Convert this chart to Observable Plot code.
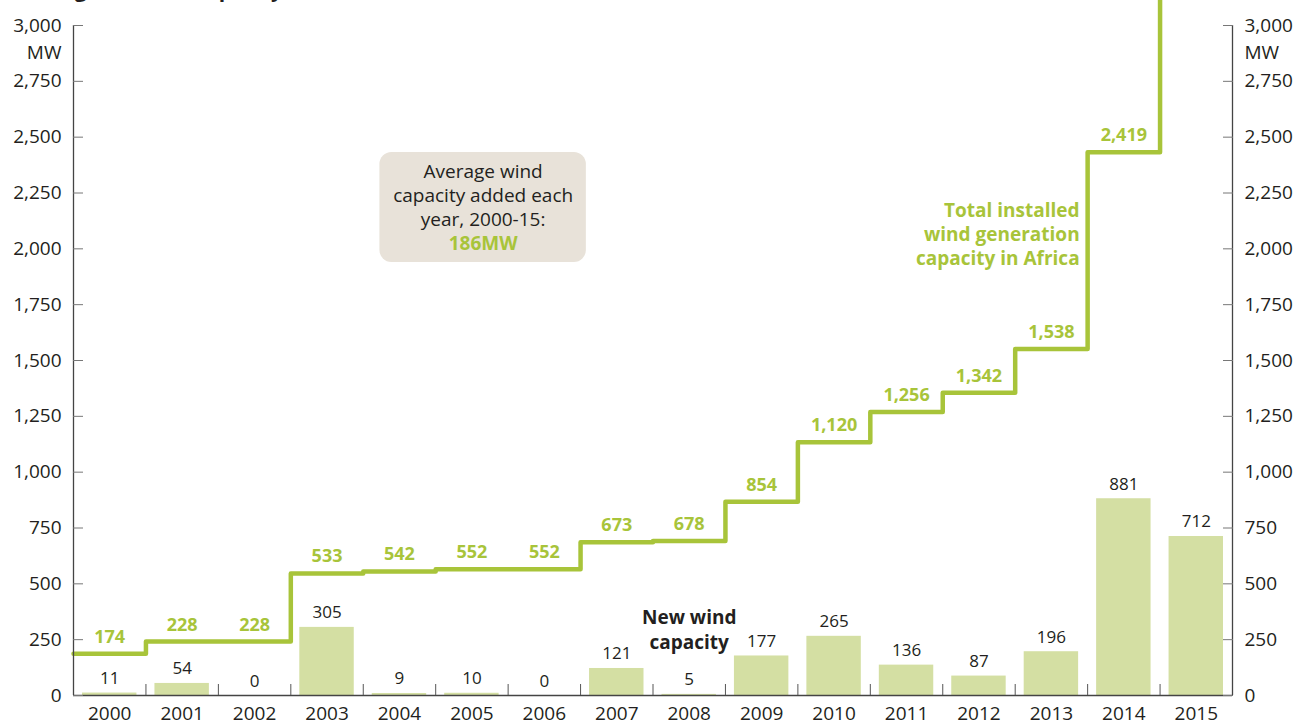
<!DOCTYPE html>
<html><head><meta charset="utf-8">
<script src="https://cdn.jsdelivr.net/npm/d3@7"></script>
<script src="https://cdn.jsdelivr.net/npm/@observablehq/plot@0.6"></script>
<style>
html,body{margin:0;padding:0;background:#fff;overflow:hidden}
#chart svg{display:block}
</style>
</head><body><div id="chart"></div>
<script>
const years = [2000,2001,2002,2003,2004,2005,2006,2007,2008,2009,2010,2011,2012,2013,2014,2015];
const newCapacity = [11,54,0,305,9,10,0,121,5,177,265,136,87,196,881,712];
const totalCapacity = [174,228,228,533,542,552,552,673,678,854,1120,1256,1342,1538,2419,3131];
const yTicks = [0,250,500,750,1000,1250,1500,1750,2000,2250,2500,2750,3000];
const titleText = "Wind generation capacity, 2000-15";
const avgText = "Average wind\ncapacity added each\nyear, 2000-15:";
const avgValue = "186MW";
const totalLabel = "Total installed\nwind generation\ncapacity in Africa";
const newLabel = "New wind\ncapacity";

const GREEN = "#a8c43a";
const BAR = "#d4dfa3";
const DARK = "#231f20";
const FONT = "'Open Sans', sans-serif";

const data = years.map((y, i) => ({i, year: y, nw: newCapacity[i], total: totalCapacity[i]}));
const steps = data.map(d => ({x: d.i, y: d.total})).concat([{x: years.length, y: totalCapacity[totalCapacity.length - 1]}]);
const fmt = d3.format(",");
const yMax = yTicks[yTicks.length - 1];

const chart = Plot.plot({
  width: 1298,
  height: 723,
  marginLeft: 73,
  marginRight: 66,
  marginTop: 25,
  marginBottom: 28,
  style: {fontFamily: FONT, fontSize: "19px", color: DARK, background: "#fff", overflow: "hidden"},
  x: {domain: [0, years.length], axis: null},
  y: {domain: [0, yMax], axis: null},
  marks: [
    // title (cut off at top)
    Plot.text([titleText], {frameAnchor: "top-left", dx: -58, dy: -29, textAnchor: "start", lineAnchor: "bottom", fontWeight: "bold", fontSize: 21, fill: DARK}),
    // annotation box
    Plot.rect([{x1: 4.23, x2: 7.08, y1: 1939, y2: 2431}], {x1: "x1", x2: "x2", y1: "y1", y2: "y2", fill: "#e8e2d9", rx: 12}),
    Plot.text([avgText], {x: 5.655, y: 2431, dy: 8, lineAnchor: "top", lineHeight: 1.27, fontSize: 19, fill: DARK}),
    Plot.text([avgValue], {x: 5.655, y: 2431, dy: 84, lineAnchor: "top", fontSize: 19, fontWeight: "bold", fill: GREEN}),
    // bars
    Plot.rectY(data, {x1: d => d.i, x2: d => d.i + 1, y: "nw", fill: BAR, insetLeft: 9, insetRight: 9}),
    Plot.text(data, {x: d => d.i + 0.5, y: "nw", text: d => fmt(d.nw), dy: -9, lineAnchor: "bottom", fontSize: 17, fill: DARK}),
    // step line
    Plot.line(steps, {x: "x", y: "y", curve: "step-after", stroke: GREEN, strokeWidth: 4.5, dy: -3}),
    Plot.text(data.filter(d => d.total <= yMax), {x: d => d.i + 0.5, y: "total", text: d => fmt(d.total), dy: -14, lineAnchor: "bottom", fontSize: 18, fontWeight: "bold", fill: GREEN}),
    // series labels
    Plot.text([totalLabel], {x: 14, y: 2431, dx: -8, dy: 47, textAnchor: "end", lineAnchor: "top", lineHeight: 1.27, fontSize: 19, fontWeight: "bold", fill: GREEN}),
    Plot.text([newLabel], {x: 8.5, y: 305, dy: 1, lineAnchor: "middle", lineHeight: 1.3, fontSize: 19, fontWeight: "bold", fill: DARK}),
    // axes frame
    Plot.ruleY([0], {stroke: "#444", strokeWidth: 1.3}),
    Plot.ruleX([0, years.length], {y1: 0, y2: yMax, stroke: "#444", strokeWidth: 1.3}),
    // y ticks (inward) and labels
    Plot.axisY({anchor: "left", ticks: yTicks, tickSize: -10, tickFormat: () => "", stroke: "#777", label: null}),
    Plot.axisY({anchor: "right", ticks: yTicks, tickSize: -10, tickFormat: () => "", stroke: "#777", label: null}),
    Plot.axisY({anchor: "left", ticks: yTicks, tickSize: 0, tickPadding: 12, tickFormat: fmt, fontSize: 19, fill: DARK, label: null}),
    Plot.axisY({anchor: "right", ticks: yTicks, tickSize: 0, tickPadding: 12, tickFormat: fmt, fontSize: 19, fill: DARK, label: null}),
    Plot.text(["MW"], {x: 0, y: yMax, dx: -12, dy: 27, textAnchor: "end", lineAnchor: "middle", fontSize: 19, fill: DARK}),
    Plot.text(["MW"], {x: years.length, y: yMax, dx: 12, dy: 27, textAnchor: "start", lineAnchor: "middle", fontSize: 19, fill: DARK}),
    // x separators and year labels
    Plot.axisX({anchor: "bottom", ticks: d3.range(1, years.length), tickSize: -11, tickFormat: () => "", stroke: "#555", label: null}),
    Plot.axisX({anchor: "bottom", ticks: data.map(d => d.i + 0.5), tickSize: 0, tickPadding: 11, tickFormat: v => String(years[Math.floor(v)]), fontSize: 19, fill: DARK, label: null})
  ]
});
document.getElementById("chart").appendChild(chart);
</script>
</body></html>
